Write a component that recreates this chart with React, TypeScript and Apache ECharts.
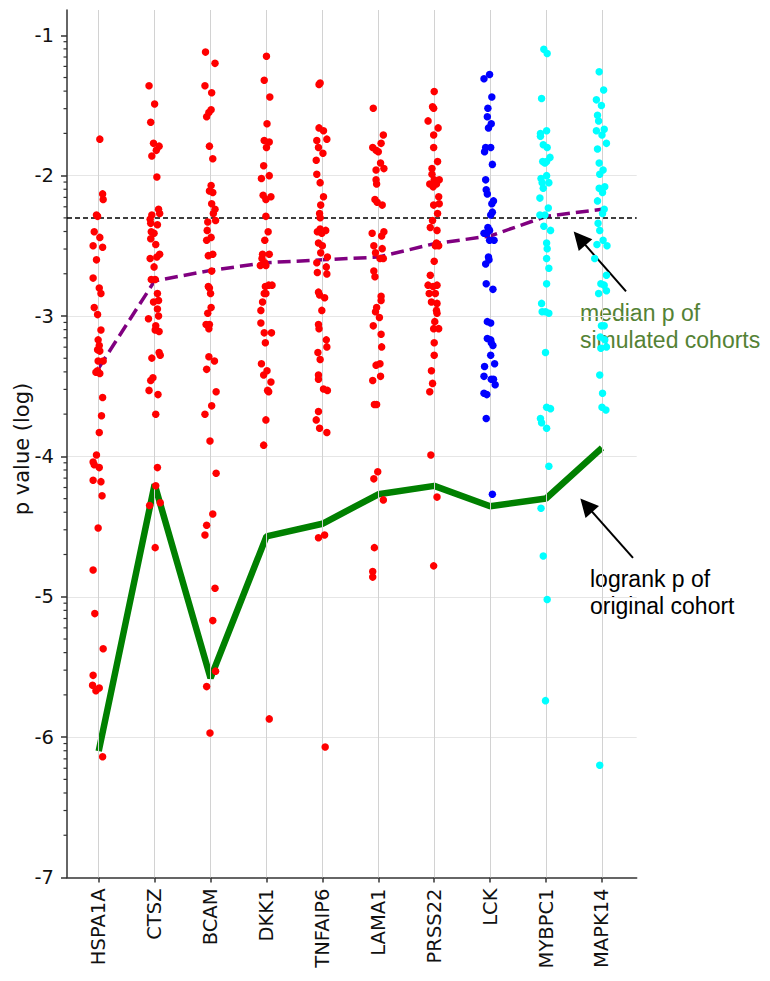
import React, { useEffect, useRef } from "react";
import * as echarts from "echarts";

// ---------- data ----------
const CATEGORIES = ["HSPA1A", "CTSZ", "BCAM", "DKK1", "TNFAIP6", "LAMA1", "PRSS22", "LCK", "MYBPC1", "MAPK14"];
const POINT_COLORS = ["#ff0000", "#ff0000", "#ff0000", "#ff0000", "#ff0000", "#ff0000", "#ff0000", "#0000ff", "#00ffff", "#00ffff"];

// median p of simulated cohorts (log10)
const MEDIAN_P = [-3.37, -2.75, -2.675, -2.62, -2.6, -2.58, -2.485, -2.43, -2.29, -2.24];
// logrank p of original cohort (log10)
const LOGRANK_P = [-6.1, -4.2, -5.58, -4.57, -4.48, -4.27, -4.21, -4.355, -4.3, -3.94];
const THRESHOLD_P = -2.301;

const Y_TICKS = [-7, -6, -5, -4, -3, -2, -1];
const Y_MIN = -7;
const Y_MAX = -0.82;
const X_MIN = -0.567;
const X_MAX = 9.621;

// simulated cohorts: [log10 p, horizontal jitter]
const SIM_HSPA1A = [
  [-1.74, 0.02], [-2.13, 0.07], [-2.17, 0.08], [-2.28, -0.04], [-2.29, -0.02], [-2.4, -0.08], [-2.44, 0.02],
  [-2.5, -0.1], [-2.51, 0.07], [-2.6, -0.04], [-2.73, -0.1], [-2.8, 0.01], [-2.84, 0.04], [-2.94, -0.08],
  [-2.99, -0.02], [-3.1, 0.04], [-3.17, -0.01], [-3.21, 0.01], [-3.24, -0.02], [-3.25, 0.02], [-3.32, -0.01],
  [-3.32, 0.08], [-3.39, -0.02], [-3.4, -0.05], [-3.41, 0.02], [-3.58, 0.07], [-3.71, 0.05], [-3.83, 0.01],
  [-3.99, -0.04], [-4.04, -0.1], [-4.06, -0.08], [-4.08, 0.01], [-4.17, -0.1], [-4.18, 0.04], [-4.28, 0.06],
  [-4.51, -0.01], [-4.81, -0.1], [-5.12, -0.07], [-5.37, 0.08], [-5.56, -0.1], [-5.63, -0.11], [-5.67, -0.05],
  [-5.65, 0.01], [-6.14, 0.07],
];
const SIM_CTSZ = [
  [-1.36, -0.1], [-1.49, 0], [-1.62, -0.07], [-1.77, -0.02], [-1.79, 0.08], [-1.82, 0.03], [-1.86, -0.05],
  [-2.01, 0.04], [-2.24, 0.07], [-2.27, 0.09], [-2.28, -0.05], [-2.31, -0.08], [-2.34, -0.07], [-2.35, 0.05],
  [-2.4, -0.06], [-2.41, -0.01], [-2.45, -0.07], [-2.49, 0.02], [-2.56, 0.09], [-2.59, -0.08], [-2.58, 0.04],
  [-2.65, -0.01], [-2.74, -0.06], [-2.74, 0.01], [-2.84, 0.05], [-2.9, -0.02], [-2.89, 0.07], [-2.95, 0.05],
  [-3.0, 0.07], [-3.02, -0.11], [-3.07, 0.02], [-3.1, 0.01], [-3.11, 0.08], [-3.26, 0.08], [-3.28, 0.1],
  [-3.3, -0.05], [-3.44, -0.03], [-3.46, -0.07], [-3.53, -0.1], [-3.56, 0.06], [-3.7, 0.02], [-4.08, 0.05],
  [-4.21, 0.02], [-4.35, -0.09], [-4.33, 0.1], [-4.65, 0.01],
];
const SIM_BCAM = [
  [-1.12, -0.09], [-1.2, 0.08], [-1.36, -0.1], [-1.41, 0.02], [-1.53, 0.01], [-1.55, -0.03], [-1.58, -0.07],
  [-1.79, -0.02], [-1.88, 0.04], [-2.07, 0.01], [-2.11, -0.02], [-2.12, 0.04], [-2.2, 0.02], [-2.24, 0.08],
  [-2.27, 0.05], [-2.32, 0.09], [-2.33, -0.05], [-2.39, -0.06], [-2.44, 0.01], [-2.46, -0.07], [-2.57, -0.04],
  [-2.56, 0.04], [-2.68, 0.02], [-2.79, -0.04], [-2.8, -0.02], [-2.84, 0], [-2.94, 0.01], [-2.98, -0.05],
  [-3.06, -0.08], [-3.06, -0.02], [-3.09, -0.03], [-3.29, -0.03], [-3.32, 0.07], [-3.38, -0.07], [-3.54, 0.1],
  [-3.64, 0.02], [-3.7, -0.1], [-3.89, -0.01], [-4.12, 0.1], [-4.41, 0.04], [-4.49, -0.07], [-4.56, -0.1],
  [-4.94, 0.08], [-5.17, 0.04], [-5.53, 0.09], [-5.64, -0.07], [-5.97, -0.01],
];
const SIM_DKK1 = [
  [-1.15, 0], [-1.32, -0.04], [-1.44, 0.06], [-1.63, 0.01], [-1.75, -0.04], [-1.76, 0.05], [-1.8, 0],
  [-1.93, -0.05], [-2.0, 0.05], [-2.02, -0.09], [-2.14, -0.06], [-2.17, -0.01], [-2.15, 0.08], [-2.29, -0.01],
  [-2.4, 0.03], [-2.46, -0.03], [-2.56, -0.07], [-2.56, 0.05], [-2.59, -0.08], [-2.62, -0.03], [-2.64, -0.11],
  [-2.64, -0.01], [-2.78, 0.1], [-2.78, 0.04], [-2.79, -0.02], [-2.84, -0.01], [-2.84, -0.04], [-2.9, -0.07],
  [-2.96, -0.1], [-3.05, -0.1], [-3.12, -0.04], [-3.12, 0.09], [-3.19, -0.02], [-3.34, -0.09], [-3.42, -0.05],
  [-3.39, 0.01], [-3.47, 0.08], [-3.53, 0.02], [-3.54, 0.04], [-3.74, -0.01], [-3.92, -0.05], [-5.87, 0.05],
];
const SIM_TNFAIP6 = [
  [-1.35, -0.06], [-1.34, -0.04], [-1.66, -0.06], [-1.68, 0.02], [-1.74, 0.08], [-1.75, -0.1], [-1.8, -0.07],
  [-1.84, 0.01], [-1.89, -0.11], [-1.99, -0.1], [-2.05, -0.04], [-2.15, 0.02], [-2.21, -0.03], [-2.27, -0.05],
  [-2.3, -0.04], [-2.39, 0.06], [-2.4, -0.09], [-2.38, -0.04], [-2.41, -0.01], [-2.48, -0.07], [-2.5, 0],
  [-2.55, -0.03], [-2.58, 0.09], [-2.62, -0.1], [-2.65, 0.07], [-2.69, -0.09], [-2.7, 0.08], [-2.83, -0.07],
  [-2.85, -0.05], [-2.87, 0.04], [-2.96, -0.01], [-3.06, -0.07], [-3.09, -0.06], [-3.17, 0.07], [-3.22, 0.08],
  [-3.26, -0.08], [-3.31, -0.04], [-3.42, -0.07], [-3.45, -0.07], [-3.52, 0.02], [-3.53, 0.09], [-3.68, -0.07],
  [-3.74, -0.11], [-3.8, -0.05], [-3.83, 0.08], [-4.58, -0.07], [-4.56, 0.04], [-6.07, 0.05],
];
const SIM_LAMA1 = [
  [-1.52, -0.09], [-1.71, 0.09], [-1.8, -0.1], [-1.82, -0.04], [-1.83, 0], [-1.77, 0.05], [-1.91, 0.04],
  [-1.95, 0.1], [-1.96, -0.04], [-2.03, -0.04], [-2.06, -0.03], [-2.17, -0.06], [-2.19, -0.02], [-2.21, 0.07],
  [-2.41, -0.11], [-2.4, 0.1], [-2.43, 0.06], [-2.5, -0.08], [-2.52, 0.07], [-2.55, -0.05], [-2.59, 0.03],
  [-2.59, 0.09], [-2.68, -0.08], [-2.72, -0.06], [-2.86, 0.05], [-2.89, 0.05], [-2.94, -0.03], [-2.97, -0.05],
  [-3.01, 0.02], [-3.07, -0.09], [-3.13, 0.05], [-3.22, 0.06], [-3.35, -0.04], [-3.34, 0.03], [-3.46, -0.1],
  [-3.43, 0.04], [-3.63, -0.07], [-3.63, -0.03], [-4.11, -0.01], [-4.16, -0.08], [-4.31, 0.09], [-4.65, -0.07],
  [-4.82, -0.1], [-4.86, -0.1],
];
const SIM_PRSS22 = [
  [-1.4, 0], [-1.51, -0.03], [-1.52, -0.01], [-1.61, -0.11], [-1.66, 0.07], [-1.71, -0.01], [-1.8, -0.01],
  [-1.9, 0.06], [-1.95, -0.04], [-1.99, -0.04], [-2.03, 0.09], [-2.03, 0], [-2.06, -0.08], [-2.06, 0.04],
  [-2.08, -0.02], [-2.15, 0.08], [-2.2, 0.09], [-2.21, -0.01], [-2.27, 0.06], [-2.32, -0.03], [-2.37, -0.07],
  [-2.39, 0.05], [-2.48, 0.04], [-2.5, 0.08], [-2.5, 0.02], [-2.61, 0], [-2.71, -0.07], [-2.78, -0.11],
  [-2.78, 0.05], [-2.79, -0.02], [-2.84, -0.09], [-2.84, 0.02], [-2.9, -0.05], [-2.91, 0.05], [-2.96, 0.04],
  [-2.98, 0.05], [-3.04, 0.01], [-3.09, -0.01], [-3.09, 0.08], [-3.19, 0], [-3.28, 0], [-3.39, -0.05],
  [-3.48, -0.03], [-3.54, -0.08], [-3.99, -0.06], [-4.29, 0.05], [-4.78, -0.01],
];
const SIM_LCK = [
  [-1.28, -0.01], [-1.31, -0.11], [-1.44, 0.03], [-1.52, -0.04], [-1.58, -0.05], [-1.63, 0.02], [-1.66, -0.03],
  [-1.8, 0.01], [-1.8, -0.08], [-1.83, -0.1], [-1.92, 0.04], [-2.03, -0.08], [-2.1, -0.07], [-2.13, -0.05],
  [-2.18, 0.06], [-2.2, 0.03], [-2.26, 0.04], [-2.28, 0.01], [-2.37, -0.04], [-2.39, -0.01], [-2.41, -0.06],
  [-2.41, -0.11], [-2.46, -0.01], [-2.46, 0.07], [-2.58, -0.03], [-2.6, -0.02], [-2.63, -0.08], [-2.77, -0.07],
  [-2.81, 0.05], [-3.04, -0.05], [-3.05, 0.01], [-3.16, -0.05], [-3.17, 0.01], [-3.19, 0.02], [-3.21, 0.05],
  [-3.28, 0.01], [-3.34, 0.08], [-3.36, -0.1], [-3.43, -0.11], [-3.45, 0.02], [-3.45, 0.06], [-3.49, 0.09],
  [-3.55, -0.11], [-3.56, -0.06], [-3.73, -0.07], [-4.27, 0.04],
];
const SIM_MYBPC1 = [
  [-1.1, -0.04], [-1.13, 0.02], [-1.45, -0.08], [-1.68, 0.01], [-1.7, -0.1], [-1.72, -0.1], [-1.78, -0.05],
  [-1.8, 0.02], [-1.87, 0.07], [-1.9, -0.06], [-1.9, 0.01], [-1.91, -0.02], [-2.0, 0.01], [-2.02, -0.09],
  [-2.05, 0.05], [-2.05, -0.07], [-2.09, -0.05], [-2.16, -0.11], [-2.23, 0.04], [-2.28, -0.11], [-2.28, -0.02],
  [-2.36, -0.04], [-2.39, 0.08], [-2.48, 0.01], [-2.52, 0.02], [-2.59, 0.01], [-2.66, 0.05], [-2.77, 0.01],
  [-2.91, -0.08], [-2.97, -0.07], [-2.98, 0.05], [-2.97, -0.01], [-3.26, -0.01], [-3.65, 0.01], [-3.66, 0.08],
  [-3.73, -0.1], [-3.76, -0.08], [-3.8, 0.01], [-4.07, 0.05], [-4.37, -0.09], [-4.71, -0.05], [-5.02, 0.02],
  [-5.74, -0.01],
];
const SIM_MAPK14 = [
  [-1.26, -0.05], [-1.39, 0.03], [-1.46, -0.1], [-1.5, -0.01], [-1.57, -0.08], [-1.61, -0.06], [-1.68, -0.1],
  [-1.67, 0.04], [-1.71, 0], [-1.77, 0.08], [-1.81, -0.08], [-1.91, -0.05], [-1.96, 0.02], [-1.99, -0.04],
  [-2.08, 0.05], [-2.09, -0.05], [-2.12, 0.01], [-2.18, -0.08], [-2.24, 0.04], [-2.27, 0.01], [-2.34, -0.07],
  [-2.39, -0.04], [-2.46, 0.02], [-2.49, -0.09], [-2.5, 0.09], [-2.59, -0.13], [-2.71, 0.08], [-2.77, -0.02],
  [-2.78, 0.04], [-2.84, -0.06], [-2.82, 0.08], [-3.07, -0.01], [-3.07, 0.04], [-3.15, -0.03], [-3.17, 0.05],
  [-3.23, -0.02], [-3.22, 0.08], [-3.42, -0.04], [-3.55, 0.01], [-3.65, 0], [-3.67, 0.07], [-6.2, -0.04],
];
const SIM_POINTS = [SIM_HSPA1A, SIM_CTSZ, SIM_BCAM, SIM_DKK1, SIM_TNFAIP6, SIM_LAMA1, SIM_PRSS22, SIM_LCK, SIM_MYBPC1, SIM_MAPK14];

// annotation arrows [tail, head] in data coordinates
const ARROW_MEDIAN = [[9.43, -2.825], [8.6, -2.447]];
const ARROW_LOGRANK = [[9.555, -4.723], [8.72, -4.348]];

const TICK_FONT = "DejaVu Sans";
const NOTE_FONT = "Liberation Sans";

// minor (log) tick positions
const MINOR_TICKS: number[] = [];
for (let d = -7; d < -1; d++) {
  for (let k = 2; k <= 9; k++) MINOR_TICKS.push(d + Math.log10(k));
}

export default function App() {
  const ref = useRef<HTMLDivElement>(null);
  useEffect(() => {
    if (!ref.current) return;
    const chart = echarts.init(ref.current, undefined, { renderer: "svg" });
    const scatterSeries = SIM_POINTS.map((pts, i) => ({
      type: "scatter",
      name: CATEGORIES[i],
      data: pts.map(([v, j]) => [i + j, v]),
      symbolSize: 7.5,
      itemStyle: { color: POINT_COLORS[i], opacity: 1 },
      z: 5,
      silent: true,
    }));
    const option: any = {
      animation: false,
      grid: { left: 67, top: 10, width: 569.7, height: 867.5, outerBoundsMode: "none", containLabel: false },
      xAxis: {
        type: "value",
        min: X_MIN,
        max: X_MAX,
        axisLine: { show: true, onZero: false, lineStyle: { color: "#333", width: 1.5 } },
        axisTick: { show: true, customValues: CATEGORIES.map((_, i) => i), length: 5, lineStyle: { color: "#333", width: 1.5 } },
        axisLabel: {
          show: true,
          customValues: CATEGORIES.map((_, i) => i),
          formatter: (v: number) => CATEGORIES[Math.round(v)] ?? "",
          rotate: 90,
          margin: 11,
          fontSize: 19.5,
          fontFamily: TICK_FONT,
          color: "#111",
        },
        splitLine: { show: false },
      },
      yAxis: {
        type: "value",
        min: Y_MIN,
        max: Y_MAX,
        interval: 1,
        axisLine: { show: true, onZero: false, lineStyle: { color: "#333", width: 1.5 } },
        axisTick: { show: true, customValues: Y_TICKS, length: 6, lineStyle: { color: "#333", width: 1.5 } },
        axisLabel: {
          show: true,
          customValues: Y_TICKS,
          formatter: (v: number) => String(v),
          margin: 13,
          fontSize: 19.5,
          fontFamily: TICK_FONT,
          color: "#111",
        },
        splitLine: { show: true, showMinLine: false, showMaxLine: false, lineStyle: { color: "#e6e6e6", width: 1 } },
      },
      series: [
        {
          type: "line",
          data: [],
          silent: true,
          z: 1,
          markLine: {
            silent: true,
            symbol: "none",
            label: { show: false },
            lineStyle: { color: "#d2d2d2", width: 1, type: "solid" },
            emphasis: { disabled: true },
            data: CATEGORIES.map((_, i) => ({ xAxis: i })),
          },
        },
        {
          type: "custom",
          silent: true,
          clip: false,
          z: 1,
          data: MINOR_TICKS.map((v) => [v]),
          renderItem: (params: any, api: any) => {
            const p = api.coord([X_MIN, api.value(0)]);
            return {
              type: "line",
              shape: { x1: p[0] - 3.5, y1: p[1], x2: p[0], y2: p[1] },
              style: { stroke: "#333", lineWidth: 1.2 },
            };
          },
        },
        {
          type: "line",
          data: LOGRANK_P.map((v, i) => [i, v]),
          symbol: "none",
          lineStyle: { color: "#008000", width: 6.5 },
          z: 3,
          silent: true,
        },
        {
          type: "line",
          data: MEDIAN_P.map((v, i) => [i, v]),
          symbol: "none",
          lineStyle: { color: "#800080", width: 3.5, type: [13, 6] },
          z: 4,
          silent: true,
        },
        {
          type: "line",
          data: [],
          silent: true,
          z: 4,
          markLine: {
            silent: true,
            symbol: "none",
            label: { show: false },
            lineStyle: { color: "#000", width: 1.5, type: [5, 3] },
            emphasis: { disabled: true },
            data: [{ yAxis: THRESHOLD_P }],
          },
        },
        ...scatterSeries,
        {
          type: "line",
          data: [],
          silent: true,
          z: 6,
          markLine: {
            silent: true,
            symbol: ["none", "triangle"],
            symbolSize: 18,
            label: { show: false },
            lineStyle: { color: "#000", width: 2, type: "solid" },
            itemStyle: { color: "#000" },
            emphasis: { disabled: true },
            data: [
              [{ coord: ARROW_MEDIAN[0] }, { coord: ARROW_MEDIAN[1] }],
              [{ coord: ARROW_LOGRANK[0] }, { coord: ARROW_LOGRANK[1] }],
            ],
          },
        },
      ],
      graphic: [
        {
          type: "text",
          x: 22,
          y: 449,
          rotation: Math.PI / 2,
          style: {
            text: "p value (log)",
            font: "21px 'DejaVu Sans'",
            fill: "#111",
            align: "center",
            verticalAlign: "middle",
          },
        },
        {
          type: "text",
          x: 580,
          y: 299,
          style: {
            text: "median p of\nsimulated cohorts",
            font: "23px 'Liberation Sans'",
            fill: "#548235",
            lineHeight: 27,
            verticalAlign: "top",
          },
        },
        {
          type: "text",
          x: 590,
          y: 565,
          style: {
            text: "logrank p of\noriginal cohort",
            font: "23px 'Liberation Sans'",
            fill: "#000",
            lineHeight: 27,
            verticalAlign: "top",
          },
        },
      ],
    };
    chart.setOption(option);
    return () => chart.dispose();
  }, []);
  return (
    <div
      ref={ref}
      style={{ position: "absolute", left: 0, top: 0, width: 770, height: 981, background: "#fff" }}
    />
  );
}
